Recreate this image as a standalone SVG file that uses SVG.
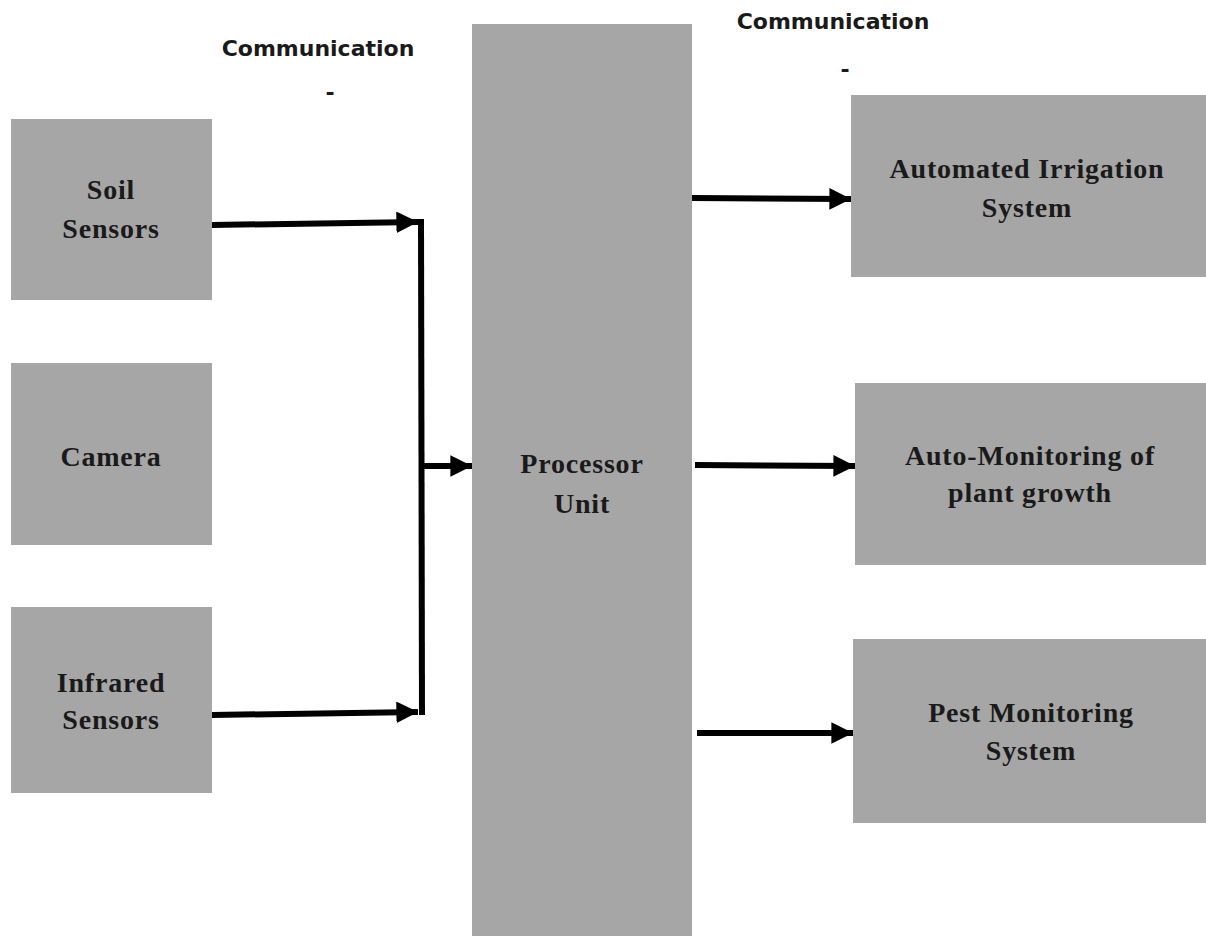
<svg xmlns="http://www.w3.org/2000/svg" width="1206" height="936" viewBox="0 0 1206 936">
<style>
.box{fill:#a6a6a6;}
.lbl{font-family:"Liberation Serif","DejaVu Serif",serif;font-weight:bold;font-size:28px;letter-spacing:0.8px;fill:#1a1a1a;text-anchor:middle;}
.com{font-family:"DejaVu Sans",Verdana,sans-serif;font-weight:bold;font-size:22px;fill:#1a1a1a;text-anchor:middle;}
.ln{stroke:#000;stroke-width:6;fill:none;}
</style>
<defs>
<marker id="ah" viewBox="0 0 10 10" refX="10" refY="5" markerWidth="3.6" markerHeight="3.6" orient="auto" markerUnits="strokeWidth">
<path d="M0,0 L10,5 L0,10 Z" fill="#000"/>
</marker>
</defs>
<rect width="1206" height="936" fill="#fff"/>
<text class="com" x="318" y="56">Communication</text>
<text class="com" x="330" y="100">-</text>
<text class="com" x="833" y="29">Communication</text>
<text class="com" x="845" y="77">-</text>
<g id="soil"><rect class="box" x="11" y="119" width="201" height="181"/><text class="lbl" x="111" y="199">Soil</text><text class="lbl" x="111" y="238">Sensors</text></g>
<g id="camera"><rect class="box" x="11" y="363" width="201" height="182"/><text class="lbl" x="111" y="466">Camera</text></g>
<g id="infrared"><rect class="box" x="11" y="607" width="201" height="186"/><text class="lbl" x="111" y="692">Infrared</text><text class="lbl" x="111" y="729">Sensors</text></g>
<g id="processor"><rect class="box" x="472" y="24" width="220" height="912"/><text class="lbl" x="582" y="473">Processor</text><text class="lbl" x="582" y="513">Unit</text></g>
<g id="irrigation"><rect class="box" x="851" y="95" width="355" height="182"/><text class="lbl" x="1027" y="178">Automated Irrigation</text><text class="lbl" x="1027" y="217">System</text></g>
<g id="growth"><rect class="box" x="855" y="383" width="351" height="182"/><text class="lbl" x="1030" y="465">Auto-Monitoring of</text><text class="lbl" x="1030" y="502">plant growth</text></g>
<g id="pest"><rect class="box" x="853" y="639" width="353" height="184"/><text class="lbl" x="1031" y="722">Pest Monitoring</text><text class="lbl" x="1031" y="760">System</text></g>
<g id="connectors">
<line class="ln" x1="212" y1="225" x2="418" y2="222" marker-end="url(#ah)"/>
<line class="ln" x1="212" y1="715" x2="418" y2="712" marker-end="url(#ah)"/>
<line class="ln" x1="421" y1="219" x2="422" y2="715"/>
<line class="ln" x1="422" y1="466" x2="472" y2="466" marker-end="url(#ah)"/>
<line class="ln" x1="692" y1="198" x2="851" y2="199" marker-end="url(#ah)"/>
<line class="ln" x1="695" y1="465" x2="855" y2="466" marker-end="url(#ah)"/>
<line class="ln" x1="697" y1="733" x2="853" y2="733" marker-end="url(#ah)"/>
</g>
</svg>
